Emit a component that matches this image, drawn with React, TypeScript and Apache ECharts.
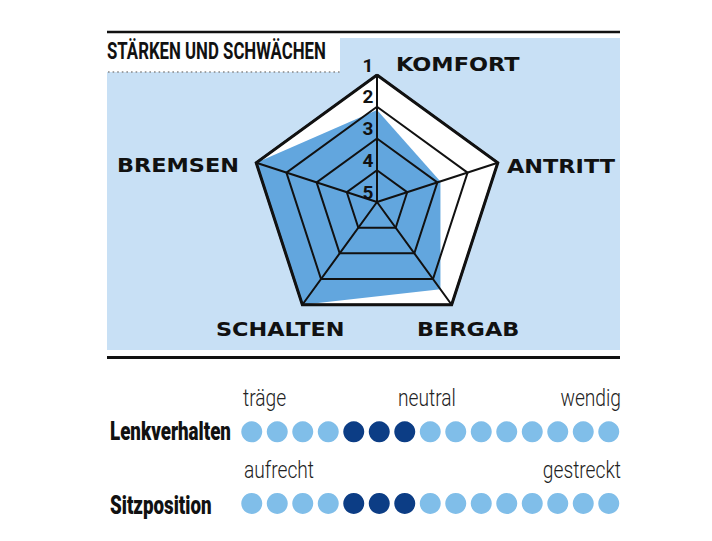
import React, { useEffect, useRef } from 'react';
import * as echarts from 'echarts';

// Radar: Noten 1 (außen, beste) bis 5 (Mitte)
const categories = ['KOMFORT', 'BREMSEN', 'SCHALTEN', 'BERGAB', 'ANTRITT'];
const ratings = [2.1, 1, 1, 1.6, 2.9];
const gradeLabels = ['1', '2', '3', '4', '5'];

// Punkteskalen
const rowNames = ['Lenkverhalten', 'Sitzposition'];
const steeringLabels = ['träge', 'neutral', 'wendig'];
const seatLabels = ['aufrecht', 'gestreckt'];
const dotCount = 15;
const steeringMarked = [5, 6, 7];
const seatMarked = [5, 6, 7];

const PANEL = '#c8e0f5';
const FILL = '#62a6de';
const DOT_LIGHT = '#80bee9';
const DOT_DARK = '#0c3d85';
const INK = '#111111';

const CENTER: [number, number] = [377, 202];
const RADIUS = 127;
const WORST = gradeLabels.length;
const LEVELS = gradeLabels.length - 1;

// label anchors for the radar names (left edge, vertical centre)
const namePos: Record<string, [number, number]> = {
  KOMFORT: [396, 64],
  BREMSEN: [117, 165],
  SCHALTEN: [216, 329],
  BERGAB: [417, 329],
  ANTRITT: [507, 166],
};

const radarBase = {
  center: CENTER,
  radius: RADIUS,
  startAngle: 90,
  shape: 'polygon',
  splitNumber: LEVELS,
  indicator: categories.map((name) => ({ name, min: 0, max: LEVELS })),
  axisName: { show: false },
  axisTick: { show: false },
  axisLabel: { show: false },
};

const txt = (
  text: string,
  x: number,
  y: number,
  font: string,
  align: string,
  scaleX = 1,
  fill = INK
) => ({
  type: 'text',
  x,
  y,
  scaleX,
  z: 20,
  silent: true,
  style: {
    text,
    font,
    fill,
    align,
    textAlign: align,
    verticalAlign: 'middle',
    textVerticalAlign: 'middle',
  },
});

export default function App() {
  const ref = useRef<HTMLDivElement>(null);

  useEffect(() => {
    if (!ref.current) return;
    document.body.style.margin = '0';
    const chart = echarts.init(ref.current, undefined, { renderer: 'svg' });

    const dots = (row: string, marked: number[]) =>
      Array.from({ length: dotCount }, (_, i) => ({
        value: [i + 1, row],
        itemStyle: { color: marked.includes(i + 1) ? DOT_DARK : DOT_LIGHT, opacity: 1 },
      }));

    const labelFont = '300 24px Roboto';
    const rowFont = '900 25px Roboto';
    const nameFont = 'bold 20px "DejaVu Sans"';

    const graphic: any[] = [
      { type: 'rect', z: 0, silent: true, shape: { x: 107, y: 38, width: 513, height: 312 }, style: { fill: PANEL } },
      { type: 'rect', z: 0, silent: true, shape: { x: 107, y: 38, width: 233, height: 34 }, style: { fill: '#ffffff' } },
      { type: 'line', z: 0, silent: true, shape: { x1: 107, y1: 32, x2: 620, y2: 32 }, style: { stroke: INK, lineWidth: 2.5 } },
      { type: 'line', z: 0, silent: true, shape: { x1: 108, y1: 72, x2: 340, y2: 72 }, style: { stroke: '#888', lineWidth: 1.6, lineDash: [1.6, 3] } },
      { type: 'line', z: 0, silent: true, shape: { x1: 107, y1: 357.5, x2: 620, y2: 357.5 }, style: { stroke: INK, lineWidth: 3 } },
      txt('STÄRKEN UND SCHWÄCHEN', 107, 51, 'bold 24px Roboto', 'left', 0.7),
      ...categories.map((c) => txt(c, namePos[c][0], namePos[c][1], nameFont, 'left', 1.12)),
      ...gradeLabels.map((g, i) =>
        txt(g, 368, CENTER[1] - (RADIUS * (LEVELS - i)) / LEVELS - 10, 'bold 19px Roboto', 'center')
      ),
      txt(rowNames[0], 110, 432, rowFont, 'left', 0.75),
      txt(rowNames[1], 110, 506, rowFont, 'left', 0.75),
      txt(steeringLabels[0], 243, 398, labelFont, 'left', 0.8, '#222'),
      txt(steeringLabels[1], 398, 398, labelFont, 'left', 0.8, '#222'),
      txt(steeringLabels[2], 621, 398, labelFont, 'right', 0.8, '#222'),
      txt(seatLabels[0], 244, 470, labelFont, 'left', 0.8, '#222'),
      txt(seatLabels[1], 621, 470, labelFont, 'right', 0.8, '#222'),
    ];

    chart.setOption({
      animation: false,
      graphic,
      radar: [
        {
          ...radarBase,
          z: 1,
          splitArea: { show: true, areaStyle: { color: ['#ffffff'], opacity: 1 } },
          splitLine: { show: false },
          axisLine: { show: false },
        },
        {
          ...radarBase,
          z: 3,
          splitArea: { show: false },
          splitLine: { lineStyle: { color: INK, width: 2 } },
          axisLine: { lineStyle: { color: INK, width: 2 } },
        },
        {
          ...radarBase,
          z: 4,
          splitNumber: 1,
          splitArea: { show: false },
          splitLine: { lineStyle: { color: INK, width: 3 } },
          axisLine: { show: false },
        },
      ],
      grid: { left: 239, top: 396, width: 382.5, height: 143.2 },
      xAxis: { type: 'value', min: 0.5, max: dotCount + 0.5, show: false },
      yAxis: { type: 'category', data: rowNames, inverse: true, show: false },
      series: [
        {
          type: 'radar',
          radarIndex: 0,
          z: 2,
          symbol: 'none',
          silent: true,
          lineStyle: { width: 0 },
          areaStyle: { color: FILL, opacity: 1 },
          data: [{ value: ratings.map((r) => WORST - r) }],
        },
        {
          type: 'scatter',
          symbolSize: 21,
          silent: true,
          itemStyle: { opacity: 1 },
          data: [...dots(rowNames[0], steeringMarked), ...dots(rowNames[1], seatMarked)],
        },
      ],
    });

    return () => chart.dispose();
  }, []);

  return (
    <div
      ref={ref}
      style={{ position: 'absolute', left: 0, top: 0, width: 712, height: 541, background: '#fff' }}
    />
  );
}
